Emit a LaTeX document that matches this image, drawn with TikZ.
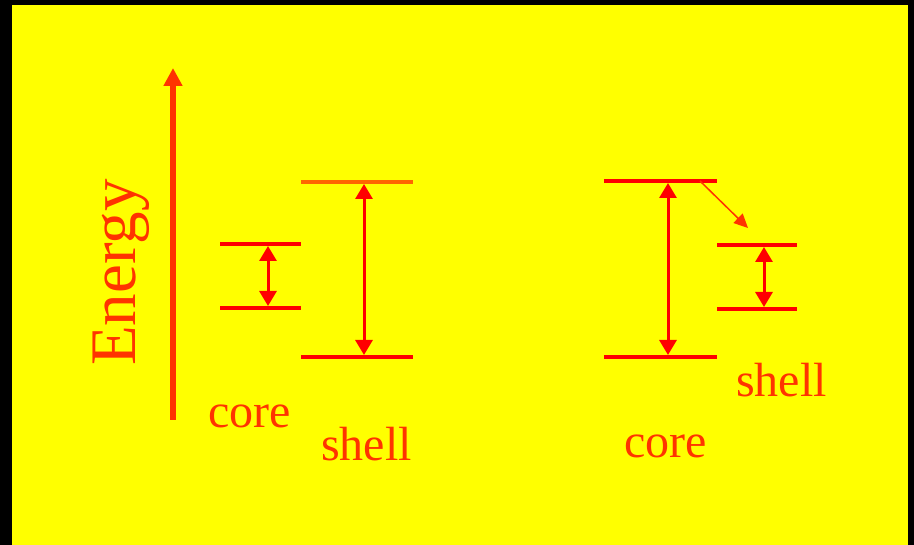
\documentclass[tikz,border=0pt]{standalone}
\usepackage{fontspec}
\setmainfont{Liberation Serif}
\usetikzlibrary{arrows.meta}
\definecolor{bg}{RGB}{255,255,0}
\definecolor{lvl}{RGB}{255,0,0}
\definecolor{lvlo}{RGB}{255,102,0}
\definecolor{txt}{RGB}{255,51,0}
\begin{document}
\begin{tikzpicture}[x=1pt,y=-1pt,
  level/.style={draw=lvl,line width=4pt},
  gap/.style={draw=lvl,fill=lvl,line width=3pt,{Triangle[length=15pt,width=17pt]}-{Triangle[length=15pt,width=17pt]}},
  lbl/.style={text=txt,font=\fontsize{48}{52}\selectfont,inner sep=0pt,anchor=base west}]
\fill[black] (0,0) rectangle (914,545);
\fill[bg] (12,5) rectangle (908,545);
\useasboundingbox (0,0) rectangle (914,545);
% energy axis
\coordinate (eb) at (173,420);
\coordinate (et) at (173,68);
\draw[txt,fill=txt,line width=6pt,-{Triangle[length=18pt,width=18pt]}] (eb) -- (et);
\node[lbl,font=\fontsize{65}{70}\selectfont,rotate=90] (energy) at (135,366) {Energy};
% left: core levels
\coordinate (lc1) at (220,244); \coordinate (lc2) at (301,244);
\coordinate (lc3) at (220,308); \coordinate (lc4) at (301,308);
\draw[level] (lc1) -- (lc2);
\draw[level] (lc3) -- (lc4);
\coordinate (lca) at (268,246); \coordinate (lcb) at (268,306);
\draw[gap] (lca) -- (lcb);
% left: shell levels
\coordinate (ls1) at (301,182); \coordinate (ls2) at (413,182);
\coordinate (ls3) at (301,357); \coordinate (ls4) at (413,357);
\draw[level,draw=lvlo] (ls1) -- (ls2);
\draw[level] (ls3) -- (ls4);
\coordinate (lsa) at (364,184); \coordinate (lsb) at (364,355);
\draw[gap] (lsa) -- (lsb);
% right: core levels
\coordinate (rc1) at (604,181); \coordinate (rc2) at (717,181);
\coordinate (rc3) at (604,357); \coordinate (rc4) at (717,357);
\draw[level] (rc1) -- (rc2);
\draw[level] (rc3) -- (rc4);
\coordinate (rca) at (668,183); \coordinate (rcb) at (668,355);
\draw[gap] (rca) -- (rcb);
% right: shell levels
\coordinate (rs1) at (717,245); \coordinate (rs2) at (797,245);
\coordinate (rs3) at (717,309); \coordinate (rs4) at (797,309);
\draw[level] (rs1) -- (rs2);
\draw[level] (rs3) -- (rs4);
\coordinate (rsa) at (764,247); \coordinate (rsb) at (764,307);
\draw[gap] (rsa) -- (rsb);
% transfer arrow
\coordinate (d1) at (700,181); \coordinate (d2) at (748,228);
\draw[txt,fill=txt,line width=1.5pt,-{Triangle[length=14pt,width=13pt]}] (d1) -- (d2);
% labels
\node[lbl] (lcore) at (208,428) {core};
\node[lbl] (lshell) at (321,461) {shell};
\node[lbl] (rshell) at (736,397) {shell};
\node[lbl] (rcore) at (624,458) {core};
\end{tikzpicture}
\end{document}
